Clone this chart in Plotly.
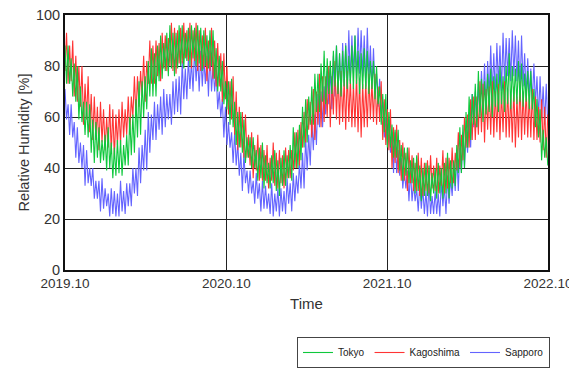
import pandas as pd
import plotly.graph_objects as go

start_date = "2019-10-01"
n_weeks = 157

# Weekly upper (hi) and lower (lo) readings of each band
tokyo_hi = [88, 88, 83, 81, 80, 72, 66, 66, 65, 59, 58, 56, 51, 53, 56, 50, 48, 51, 51, 49,
            53, 60, 61, 67, 74, 74, 76, 82, 87, 85, 88, 92, 89, 93, 96, 93, 93, 96, 96, 93,
            95, 96, 95, 96, 95, 94, 92, 94, 94, 87, 84, 82, 74, 74, 75, 66, 62, 62, 59, 52,
            52, 52, 47, 48, 50, 45, 42, 45, 47, 43, 44, 47, 45, 49, 56, 54, 57, 64, 67, 68,
            72, 77, 77, 81, 86, 83, 82, 86, 88, 85, 86, 88, 84, 88, 92, 86, 85, 87, 86, 82,
            82, 80, 72, 69, 69, 62, 57, 55, 55, 49, 48, 48, 43, 44, 45, 41, 40, 42, 41, 38,
            40, 42, 40, 42, 46, 43, 43, 49, 56, 57, 62, 68, 69, 73, 78, 75, 74, 77, 79, 76,
            77, 80, 76, 80, 85, 80, 79, 82, 81, 77, 78, 78, 71, 67, 63, 55, 52]
tokyo_lo = [73, 73, 68, 66, 59, 58, 53, 52, 46, 42, 44, 42, 43, 39, 40, 36, 37, 38, 37, 41,
            41, 45, 46, 52, 53, 60, 63, 68, 68, 68, 74, 75, 78, 76, 79, 76, 79, 80, 79, 82,
            80, 83, 80, 81, 78, 80, 79, 80, 75, 70, 70, 65, 63, 57, 56, 49, 48, 46, 42, 44,
            40, 40, 35, 36, 32, 34, 32, 34, 31, 29, 33, 33, 36, 35, 40, 40, 43, 48, 50, 57,
            57, 62, 62, 66, 65, 69, 69, 72, 69, 68, 72, 71, 73, 71, 73, 69, 71, 71, 69, 71,
            67, 65, 57, 54, 48, 48, 44, 44, 39, 35, 37, 34, 34, 30, 31, 27, 29, 29, 27, 30,
            28, 30, 28, 30, 28, 32, 33, 38, 38, 40, 48, 51, 57, 56, 60, 58, 61, 62, 60, 64,
            62, 65, 62, 65, 63, 66, 65, 66, 64, 66, 63, 63, 56, 52, 43, 44, 41]

kagoshima_hi = [93, 88, 90, 84, 80, 80, 73, 76, 69, 68, 64, 66, 63, 60, 65, 63, 61, 63, 66, 63,
                68, 68, 76, 76, 78, 84, 82, 90, 88, 90, 89, 93, 92, 91, 97, 95, 94, 95, 97, 94,
                97, 94, 97, 94, 92, 95, 90, 95, 90, 89, 85, 85, 80, 74, 76, 70, 64, 62, 61, 53,
                54, 49, 53, 49, 47, 49, 44, 50, 46, 47, 45, 48, 47, 47, 54, 55, 58, 62, 67, 66,
                71, 70, 77, 76, 76, 80, 76, 82, 78, 78, 75, 78, 75, 73, 77, 75, 73, 74, 77, 74,
                77, 72, 74, 67, 63, 63, 56, 57, 51, 50, 46, 48, 45, 42, 46, 44, 42, 43, 45, 41,
                44, 41, 47, 44, 44, 48, 46, 54, 53, 60, 61, 67, 68, 68, 74, 73, 71, 72, 74, 70,
                73, 70, 74, 71, 69, 72, 68, 74, 70, 71, 69, 71, 68, 64, 67, 64, 61]
kagoshima_lo = [78, 73, 74, 68, 66, 64, 57, 59, 54, 51, 51, 47, 50, 47, 48, 46, 44, 49, 49, 52,
                53, 53, 60, 60, 64, 68, 66, 73, 73, 73, 76, 74, 79, 78, 80, 78, 77, 81, 81, 83,
                82, 79, 82, 78, 78, 79, 74, 78, 75, 72, 72, 66, 67, 61, 59, 53, 47, 48, 44, 44,
                41, 36, 39, 35, 35, 35, 32, 35, 33, 32, 34, 32, 36, 36, 39, 40, 41, 48, 50, 55,
                52, 51, 57, 56, 58, 60, 56, 61, 59, 57, 58, 55, 58, 56, 56, 54, 52, 56, 56, 59,
                58, 57, 58, 51, 49, 47, 40, 42, 38, 35, 35, 31, 34, 31, 31, 29, 29, 31, 30, 32,
                31, 30, 33, 30, 32, 34, 34, 39, 40, 43, 48, 48, 51, 51, 53, 54, 50, 55, 53, 52,
                54, 51, 54, 52, 52, 50, 48, 52, 51, 53, 52, 52, 51, 51, 50, 47, 44]

sapporo_hi = [71, 65, 65, 58, 56, 50, 49, 47, 40, 40, 35, 35, 36, 32, 30, 32, 31, 30, 35, 31,
              34, 34, 40, 40, 48, 49, 55, 62, 61, 66, 65, 68, 71, 69, 69, 74, 75, 76, 82, 79,
              83, 82, 87, 84, 86, 83, 84, 86, 80, 78, 70, 67, 64, 58, 54, 54, 50, 46, 46, 39,
              39, 35, 38, 34, 35, 33, 30, 34, 30, 32, 32, 31, 36, 34, 38, 37, 42, 46, 52, 53,
              59, 61, 69, 70, 72, 78, 79, 84, 88, 85, 89, 89, 94, 92, 92, 95, 94, 92, 95, 88,
              87, 77, 75, 66, 60, 59, 54, 54, 47, 44, 39, 39, 39, 34, 32, 34, 32, 31, 34, 29,
              31, 30, 35, 33, 37, 36, 40, 46, 48, 54, 55, 62, 69, 70, 73, 78, 81, 82, 88, 85,
              89, 88, 93, 91, 91, 94, 92, 90, 92, 85, 83, 79, 81, 76, 76, 72, 73]
sapporo_lo = [59, 53, 52, 44, 42, 40, 33, 34, 33, 28, 28, 23, 24, 25, 21, 22, 21, 21, 23, 22,
              25, 25, 30, 29, 34, 39, 39, 46, 51, 51, 55, 53, 56, 59, 57, 61, 62, 61, 67, 67,
              71, 70, 74, 70, 72, 73, 68, 70, 70, 63, 60, 52, 49, 48, 42, 41, 37, 31, 34, 30,
              30, 26, 28, 23, 24, 24, 22, 21, 23, 21, 23, 22, 26, 23, 27, 30, 32, 32, 39, 41,
              47, 49, 56, 56, 61, 65, 63, 68, 69, 68, 72, 71, 74, 77, 75, 77, 76, 72, 75, 71,
              70, 64, 62, 52, 49, 46, 38, 38, 37, 32, 32, 27, 27, 27, 23, 24, 22, 21, 22, 22,
              22, 21, 25, 22, 26, 29, 31, 31, 38, 40, 46, 48, 56, 56, 62, 65, 63, 68, 69, 68,
              72, 70, 73, 76, 74, 76, 74, 70, 72, 68, 68, 66, 65, 59, 60, 57, 57]

tick_dates = ["2019-10-01", "2020-10-01", "2021-10-01", "2022-10-01"]
tick_labels = ["2019.10", "2020.10", "2021.10", "2022.10"]
y_ticks = [0, 20, 40, 60, 80, 100]

weeks = pd.date_range(start_date, periods=n_weeks, freq="7D")
half = pd.Timedelta(hours=84)


def interleave(first, second):
    xs, ys = [], []
    for d, a, b in zip(weeks, first, second):
        xs.extend([d, d + half])
        ys.extend([a, b])
    return xs, ys


fig = go.Figure()
series = [
    ("Sapporo", sapporo_hi, sapporo_lo, "#6464ff", 3),
    ("Kagoshima", kagoshima_lo, kagoshima_hi, "#ff3434", 2),
    ("Tokyo", tokyo_hi, tokyo_lo, "#0ec83c", 1),
]
for name, a, b, col, rank in series:
    xs, ys = interleave(a, b)
    fig.add_trace(go.Scatter(x=xs, y=ys, mode="lines", name=name,
                             line=dict(color=col, width=1.1), legendrank=rank))

font_family = "Liberation Sans, Arial, sans-serif"
fig.update_layout(
    width=569, height=364,
    margin=dict(l=57, r=29, t=7, b=102, autoexpand=False),
    paper_bgcolor="white", plot_bgcolor="white",
    font=dict(family=font_family, size=12, color="#333333"),
    showlegend=True,
    legend=dict(orientation="h", xref="container", yref="container",
                x=0.9525, xanchor="right", y=0.011, yanchor="bottom",
                bordercolor="#444444", borderwidth=1, bgcolor="white",
                font=dict(size=10, color="#222222"),
                tracegroupgap=0),
)
fig.update_xaxes(
    range=[tick_dates[0], tick_dates[-1]], automargin=False,
    tickmode="array", tickvals=tick_dates, ticktext=tick_labels,
    ticklabeloverflow="allow",
    showgrid=True, gridcolor="#222222", gridwidth=1,
    showline=True, linecolor="#111111", linewidth=2, mirror=True,
    ticks="", title=dict(text="Time", font=dict(size=15, color="#333333"), standoff=8),
    tickfont=dict(size=13.5, color="#333333"),
)
fig.update_yaxes(
    range=[0, 100], tickmode="array", tickvals=y_ticks, automargin=False,
    ticklabeloverflow="allow",
    showgrid=True, gridcolor="#222222", gridwidth=1,
    showline=True, linecolor="#111111", linewidth=2, mirror=True,
    ticks="", title=dict(text="Relative Humidity [%]", font=dict(size=14.5, color="#333333"), standoff=3),
    tickfont=dict(size=14.5, color="#333333"),
)
fig.write_html("out.html")
